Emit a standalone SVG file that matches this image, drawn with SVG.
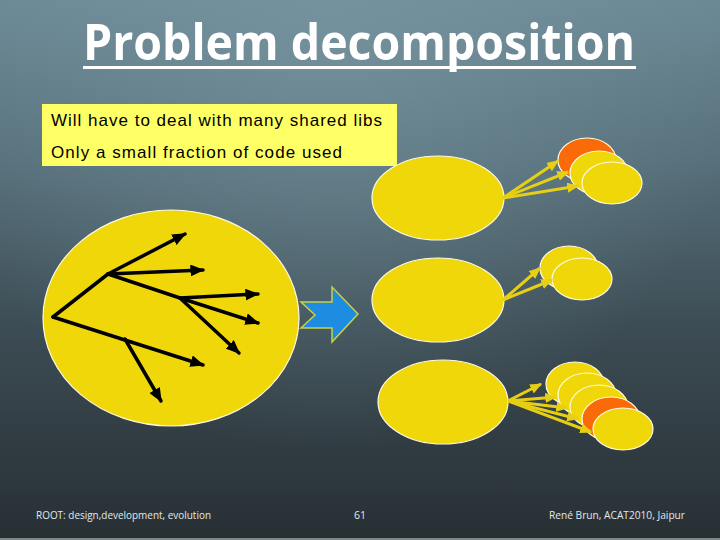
<svg xmlns="http://www.w3.org/2000/svg" width="720" height="540" viewBox="0 0 720 540">
<defs>
<linearGradient id="bg" x1="0" y1="0" x2="0" y2="540" gradientUnits="userSpaceOnUse">
<stop offset="0" stop-color="#6b8995"/>
<stop offset="0.3" stop-color="#566f7a"/>
<stop offset="0.6" stop-color="#3d4d55"/>
<stop offset="1" stop-color="#272f33"/>
</linearGradient>
<radialGradient id="glow" cx="330" cy="30" r="420" gradientUnits="userSpaceOnUse">
<stop offset="0" stop-color="#7d9ba6" stop-opacity="0.55"/>
<stop offset="1" stop-color="#7d9ba6" stop-opacity="0"/>
</radialGradient>
<marker id="ah-black" markerWidth="4" markerHeight="3.4" refX="3.6" refY="1.7" orient="auto" markerUnits="strokeWidth">
<path d="M0,0 L4,1.7 L0,3.4 z" fill="#000"/>
</marker>
<marker id="ah-yellow" markerWidth="4" markerHeight="3.4" refX="3.6" refY="1.7" orient="auto" markerUnits="strokeWidth">
<path d="M0,0 L4,1.7 L0,3.4 z" fill="#e6cf14"/>
</marker>
<style>
.blob{fill:#f0d70a;stroke:#fffbe0;stroke-width:1.2}
.lib{fill:#f0d70a;stroke:#fffbe0;stroke-width:1.2}
.lib-o{fill:#fb6a08;stroke:#fffbe0;stroke-width:1.2}
.tree{stroke:#000;stroke-width:3.5;fill:none;stroke-linecap:round}
.tarr{marker-end:url(#ah-black)}
.yc{stroke:#e6cf14;stroke-width:3;fill:none;marker-end:url(#ah-yellow)}
.note{font-family:"Liberation Sans",Arial,sans-serif;font-size:17px;fill:#000}
.foot{font-family:"Open Sans","Liberation Sans",sans-serif;font-size:10.5px;fill:#e2e8ea}
</style>
</defs>
<rect x="0" y="0" width="720" height="540" fill="url(#bg)"/>
<rect x="0" y="0" width="720" height="540" fill="url(#glow)"/>
<line x1="0" y1="539" x2="720" y2="539" stroke="#9aa5aa" stroke-width="1.5"/>

<g id="title">
<text x="83" y="60" font-family="'Open Sans','Liberation Sans',sans-serif" font-weight="bold" font-size="50" fill="#ffffff" textLength="552" lengthAdjust="spacingAndGlyphs">Problem decomposition</text>
<rect x="83" y="66" width="553" height="3" fill="#ffffff"/>
</g>

<g id="note">
<rect x="42" y="104" width="355" height="62" fill="#ffff66"/>
<text class="note" x="51" y="126" textLength="331" lengthAdjust="spacing">Will have to deal with many shared libs</text>
<text class="note" x="51" y="158" textLength="291" lengthAdjust="spacing">Only a small fraction of code used</text>
</g>

<g id="program">
<ellipse class="blob" cx="171" cy="318" rx="128" ry="108"/>
</g>

<g id="transform-arrow">
<polygon points="301,302 332,302 332,287 358,314 332,342 332,328 301,328 315,315" fill="#1e8ce0" stroke="#c6d243" stroke-width="1.5"/>
</g>

<g id="module-1"><ellipse class="blob" cx="438" cy="198" rx="66" ry="42"/></g>
<g id="module-2"><ellipse class="blob" cx="438" cy="300" rx="66" ry="42"/></g>
<g id="module-3"><ellipse class="blob" cx="443" cy="402" rx="65" ry="42"/></g>

<g id="libs-1">
<ellipse class="lib-o" cx="587" cy="160" rx="29" ry="22"/>
<ellipse class="lib" cx="599" cy="173" rx="29" ry="22"/>
<ellipse class="lib" cx="612" cy="183" rx="30" ry="21"/>
</g>

<g id="libs-2">
<ellipse class="lib" cx="569" cy="268" rx="29" ry="22"/>
<ellipse class="lib" cx="582" cy="279" rx="30" ry="21"/>
</g>

<g id="libs-3">
<ellipse class="lib" cx="575" cy="384" rx="29" ry="22"/>
<ellipse class="lib" cx="587" cy="395" rx="29" ry="22"/>
<ellipse class="lib" cx="599" cy="407" rx="29" ry="22"/>
<ellipse class="lib-o" cx="611" cy="419" rx="29" ry="22"/>
<ellipse class="lib" cx="623" cy="429" rx="30" ry="21"/>
</g>

<g id="connectors">
<g id="tree">
<line class="tree" x1="108" y1="274" x2="53" y2="317"/>
<line class="tree" x1="108" y1="274" x2="180" y2="298"/>
<line class="tree tarr" x1="53" y1="317" x2="203" y2="365"/>
<line class="tree tarr" x1="108" y1="274" x2="185" y2="234"/>
<line class="tree tarr" x1="108" y1="274" x2="203" y2="270"/>
<line class="tree tarr" x1="180" y1="298" x2="258" y2="294"/>
<line class="tree tarr" x1="180" y1="298" x2="258" y2="323"/>
<line class="tree tarr" x1="180" y1="298" x2="239" y2="353"/>
<line class="tree tarr" x1="125" y1="339" x2="161" y2="401"/>
</g>
<g id="lib-links">
<line class="yc" x1="503" y1="198" x2="558" y2="161"/>
<line class="yc" x1="503" y1="198" x2="568" y2="172"/>
<line class="yc" x1="503" y1="198" x2="578" y2="186"/>
<line class="yc" x1="503" y1="300" x2="540" y2="268"/>
<line class="yc" x1="503" y1="300" x2="552" y2="280"/>
<line class="yc" x1="508" y1="401" x2="541" y2="384"/>
<line class="yc" x1="508" y1="401" x2="556" y2="397"/>
<line class="yc" x1="508" y1="401" x2="567" y2="408"/>
<line class="yc" x1="508" y1="401" x2="578" y2="419"/>
<line class="yc" x1="508" y1="401" x2="591" y2="432"/>
</g>
</g>

<g id="footer">
<text class="foot" x="36" y="519" textLength="175" lengthAdjust="spacingAndGlyphs">ROOT: design,development, evolution</text>
<text class="foot" x="354" y="519">61</text>
<text class="foot" x="549" y="519" textLength="136" lengthAdjust="spacingAndGlyphs">René Brun,  ACAT2010, Jaipur</text>
</g>
</svg>
